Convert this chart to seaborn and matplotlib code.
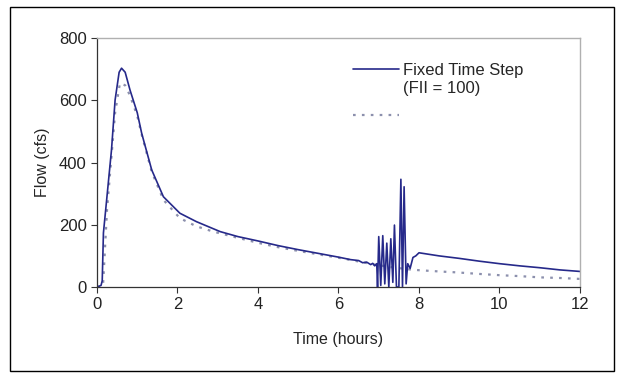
import matplotlib
matplotlib.use("Agg")
import matplotlib.pyplot as plt
import matplotlib.patches as patches
from matplotlib.lines import Line2D
import pandas as pd
import seaborn as sns

# Fixed time step run
fixed_time = [0.0, 0.1, 0.13, 0.16, 0.24, 0.36, 0.45, 0.55, 0.61, 0.7, 0.82, 1.0, 1.11, 1.36,
              1.65, 2.06, 2.47, 3.06, 3.5, 4.0, 4.5, 5.0, 5.5, 6.0, 6.3, 6.5, 6.6, 6.7, 6.8,
              6.85, 6.9, 6.95, 6.97, 7.0, 7.05, 7.1, 7.15, 7.2, 7.25, 7.3, 7.35, 7.39, 7.44,
              7.5, 7.55, 7.59, 7.63, 7.68, 7.72, 7.78, 7.85, 7.92, 8.0, 8.5, 9.0, 9.5, 10.0,
              10.5, 11.0, 11.5, 12.0]
fixed_flow = [0, 5, 20, 174, 280, 440, 601, 690, 703, 690, 633, 560, 494, 376,
              290, 237, 210, 178, 162, 148, 133, 120, 108, 96, 88, 85, 78, 80, 72,
              76, 68, 75, 0, 162, 5, 165, 10, 141, 0, 155, 15, 199, 0,
              0, 346, 0, 322, 10, 75, 60, 95, 100, 110, 100, 92, 83, 75,
              68, 62, 55, 50]

# Second run (dotted)
dotted_time = [0.0, 0.15, 0.25, 0.36, 0.45, 0.57, 0.7, 0.82, 1.0, 1.11, 1.36, 1.65, 2.06,
               2.47, 2.89, 3.5, 4.0, 4.5, 5.0, 5.5, 6.0, 6.5, 6.9, 7.3, 7.73, 8.0, 8.5,
               8.94, 9.5, 10.0, 10.5, 11.0, 11.5, 12.0]
dotted_flow = [0, 5, 250, 420, 560, 655, 648, 615, 550, 490, 370, 280, 221,
               195, 178, 158, 142, 128, 116, 105, 94, 82, 72, 64, 57, 54, 50,
               47, 42, 38, 35, 31, 29, 26]

legend_labels = ["Fixed Time Step", "(FII = 100)", "\n"]

df_fixed = pd.DataFrame({"Time": fixed_time, "Flow": fixed_flow})
df_dotted = pd.DataFrame({"Time": dotted_time, "Flow": dotted_flow})

sns.set_style("ticks")
plt.rcParams["font.family"] = ["Liberation Sans", "DejaVu Sans"]

fig = plt.figure(figsize=(6.29, 3.80), dpi=100)
ax = fig.add_axes([0.1542, 0.2447, 0.7679, 0.6553])

line_color = "#26298a"
dot_color = "#8c90ad"

sns.lineplot(data=df_dotted, x="Time", y="Flow", ax=ax, color=dot_color,
             linestyle=(0, (1.2, 2.8)), linewidth=1.6, estimator=None, sort=False)
sns.lineplot(data=df_fixed, x="Time", y="Flow", ax=ax, color=line_color,
             linewidth=1.2, estimator=None, sort=False)

ax.set_xlim(0, 12)
ax.set_ylim(0, 800)
ax.set_xticks([0, 2, 4, 6, 8, 10, 12])
ax.set_yticks([0, 200, 400, 600, 800])
ax.set_xlabel("Time (hours)", fontsize=11.5, labelpad=14)
ax.set_ylabel("Flow (cfs)", fontsize=11.5, labelpad=6)
ax.tick_params(axis="both", labelsize=12, length=4, width=0.8, colors="#333333",
               labelcolor="#222222")

for side in ["left", "bottom"]:
    ax.spines[side].set_color("#333333")
    ax.spines[side].set_linewidth(0.9)
for side in ["top", "right"]:
    ax.spines[side].set_visible(True)
    ax.spines[side].set_color("#b0b0b0")
    ax.spines[side].set_linewidth(1.0)

handles = [Line2D([], [], color=line_color, linewidth=1.2),
           Line2D([], [], color="none"),
           Line2D([], [], color=dot_color, linestyle=(0, (1.2, 2.8)), linewidth=1.6)]
ax.legend(handles, legend_labels, loc="upper left",
          bbox_to_anchor=(0.50, 0.96), frameon=False, fontsize=12,
          handlelength=2.75, handletextpad=0.2, labelspacing=0.18)

# outer frame around the whole chart
fig.patches.append(patches.Rectangle((10 / 629, 1 - 371 / 380), 604 / 629, 364 / 380,
                                     transform=fig.transFigure, fill=False,
                                     edgecolor="black", linewidth=1.0))

fig.savefig("out.png", dpi=100)
